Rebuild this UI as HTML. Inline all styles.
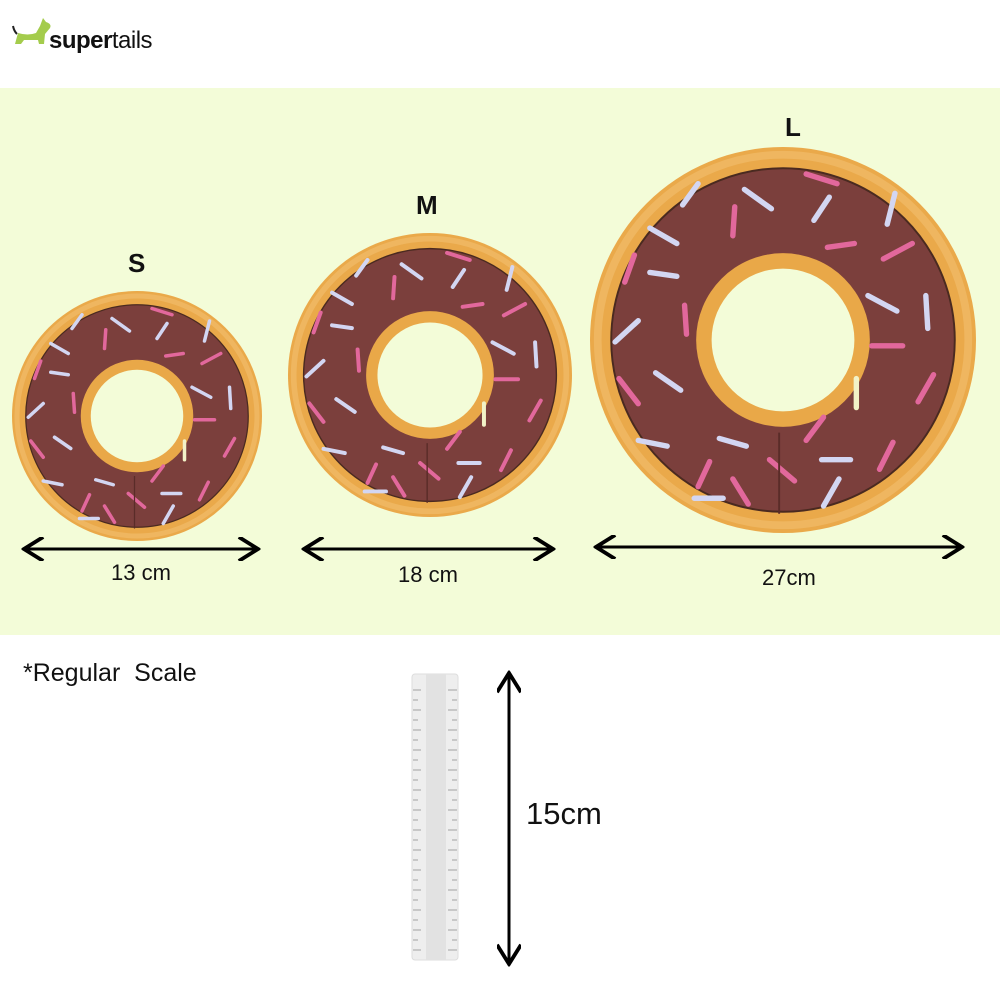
<!DOCTYPE html>
<html><head><meta charset="utf-8"><style>
body{margin:0;width:1000px;height:1000px;background:#fff;position:relative;overflow:hidden;font-family:"Liberation Sans",sans-serif}
.band{position:absolute;left:0;top:88px;width:1000px;height:547px;background:#f3fcd8}
.t{position:absolute;color:#111;font-size:22px}
</style></head><body>
<div class="band"></div>
<svg width="1000" height="1000" style="position:absolute;left:0;top:0">
<defs>
<g id="d">
<circle r="100" fill="#eaa94a"/>
<circle r="96" fill="none" stroke="#f2c070" stroke-width="4" opacity=".6"/>
<circle r="89" fill="#7b3f3c" stroke="#4a2a20" stroke-width="1"/>
<circle r="45" fill="#e9a848"/>
<circle r="37" fill="#f3fcd8"/>
<g stroke-width="2.8" stroke-linecap="round">
<line x1="-52" y1="-70" x2="-44" y2="-81" stroke="#d3d6f2"/>
<line x1="-20" y1="-78" x2="-6" y2="-68" stroke="#d3d6f2"/>
<line x1="12" y1="-86" x2="28" y2="-81" stroke="#e2689c"/>
<line x1="54" y1="-60" x2="58" y2="-76" stroke="#d3d6f2"/>
<line x1="16" y1="-62" x2="24" y2="-74" stroke="#d3d6f2"/>
<line x1="-25" y1="-69" x2="-26" y2="-54" stroke="#e2689c"/>
<line x1="-69" y1="-58" x2="-55" y2="-50" stroke="#d3d6f2"/>
<line x1="-82" y1="-30" x2="-77" y2="-44" stroke="#e2689c"/>
<line x1="-69" y1="-35" x2="-55" y2="-33" stroke="#d3d6f2"/>
<line x1="23" y1="-48" x2="37" y2="-50" stroke="#e2689c"/>
<line x1="52" y1="-42" x2="67" y2="-50" stroke="#e2689c"/>
<line x1="44" y1="-23" x2="59" y2="-15" stroke="#d3d6f2"/>
<line x1="74" y1="-23" x2="75" y2="-6" stroke="#d3d6f2"/>
<line x1="-51" y1="-18" x2="-50" y2="-3" stroke="#e2689c"/>
<line x1="-87" y1="1" x2="-75" y2="-10" stroke="#d3d6f2"/>
<line x1="46" y1="3" x2="62" y2="3" stroke="#e2689c"/>
<line x1="-85" y1="20" x2="-75" y2="33" stroke="#e2689c"/>
<line x1="-66" y1="17" x2="-53" y2="26" stroke="#d3d6f2"/>
<line x1="38" y1="20" x2="38" y2="35" stroke="#f2f2c8"/>
<line x1="70" y1="32" x2="78" y2="18" stroke="#e2689c"/>
<line x1="21" y1="40" x2="12" y2="52" stroke="#e2689c"/>
<line x1="-33" y1="51" x2="-19" y2="55" stroke="#d3d6f2"/>
<line x1="-75" y1="52" x2="-60" y2="55" stroke="#d3d6f2"/>
<line x1="-44" y1="76" x2="-38" y2="63" stroke="#e2689c"/>
<line x1="-26" y1="72" x2="-18" y2="85" stroke="#e2689c"/>
<line x1="-7" y1="62" x2="6" y2="73" stroke="#e2689c"/>
<line x1="20" y1="62" x2="35" y2="62" stroke="#d3d6f2"/>
<line x1="50" y1="67" x2="57" y2="53" stroke="#e2689c"/>
<line x1="21" y1="86" x2="29" y2="72" stroke="#d3d6f2"/>
<line x1="-46" y1="82" x2="-31" y2="82" stroke="#d3d6f2"/>
</g>
<line x1="-2" y1="48" x2="-2" y2="90" stroke="#5a2c28" stroke-width="1"/>
</g>
<marker id="a" viewBox="0 0 10 10" refX="9" refY="5" markerWidth="8" markerHeight="8" orient="auto-start-reverse"><path d="M1 0 L9 5 L1 10" fill="none" stroke="#000" stroke-width="1.6"/></marker>
</defs>
<use href="#d" transform="translate(137,416) scale(1.25)"/>
<use href="#d" transform="translate(430,375) scale(1.42)"/>
<use href="#d" transform="translate(783,340) scale(1.93)"/>
<g stroke="#000" stroke-width="3" marker-start="url(#a)" marker-end="url(#a)" fill="none">
<line x1="24" y1="549" x2="258" y2="549"/>
<line x1="304" y1="549" x2="553" y2="549"/>
<line x1="596" y1="547" x2="962" y2="547"/>
<line x1="509" y1="673" x2="509" y2="964"/>
</g>
<rect x="412" y="674" width="46" height="286" rx="3" fill="#eeeeee" stroke="#ddd"/>
<rect x="426" y="674" width="20" height="286" fill="#e2e2e2"/>
<g stroke="#888" stroke-width="0.7">
<path d="M413 690h8M413 700h5M413 710h8M413 720h5M413 730h8M413 740h5M413 750h8M413 760h5M413 770h8M413 780h5M413 790h8M413 800h5M413 810h8M413 820h5M413 830h8M413 840h5M413 850h8M413 860h5M413 870h8M413 880h5M413 890h8M413 900h5M413 910h8M413 920h5M413 930h8M413 940h5M413 950h8"/>
<path d="M448 690h9M452 700h5M448 710h9M452 720h5M448 730h9M452 740h5M448 750h9M452 760h5M448 770h9M452 780h5M448 790h9M452 800h5M448 810h9M452 820h5M448 830h9M452 840h5M448 850h9M452 860h5M448 870h9M452 880h5M448 890h9M452 900h5M448 910h9M452 920h5M448 930h9M452 940h5M448 950h9"/>
</g>
<path d="M15 44 L18 33 Q28 36 36 33 L40 26 L43 18 L46 22 Q52 24 50 28 L45 34 L44 44 L39 44 L38 40 L24 40 L21 44Z" fill="#a4cc4c"/>
<path d="M13 26 Q14 31 17 34" stroke="#222" stroke-width="2" fill="none"/>
</svg>
<div class="t" style="left:49px;top:27px;font-size:24px;letter-spacing:-0.5px"><b>super</b>tails</div>
<div class="t" style="left:128px;top:248px;font-size:26px;font-weight:bold">S</div>
<div class="t" style="left:416px;top:190px;font-size:26px;font-weight:bold">M</div>
<div class="t" style="left:785px;top:112px;font-size:26px;font-weight:bold">L</div>
<div class="t" style="left:111px;top:560px">13 cm</div>
<div class="t" style="left:398px;top:562px">18 cm</div>
<div class="t" style="left:762px;top:565px">27cm</div>
<div class="t" style="left:23px;top:659px;font-size:25px">*Regular&nbsp; Scale</div>
<div class="t" style="left:526px;top:796px;font-size:31px">15cm</div>
</body></html>
